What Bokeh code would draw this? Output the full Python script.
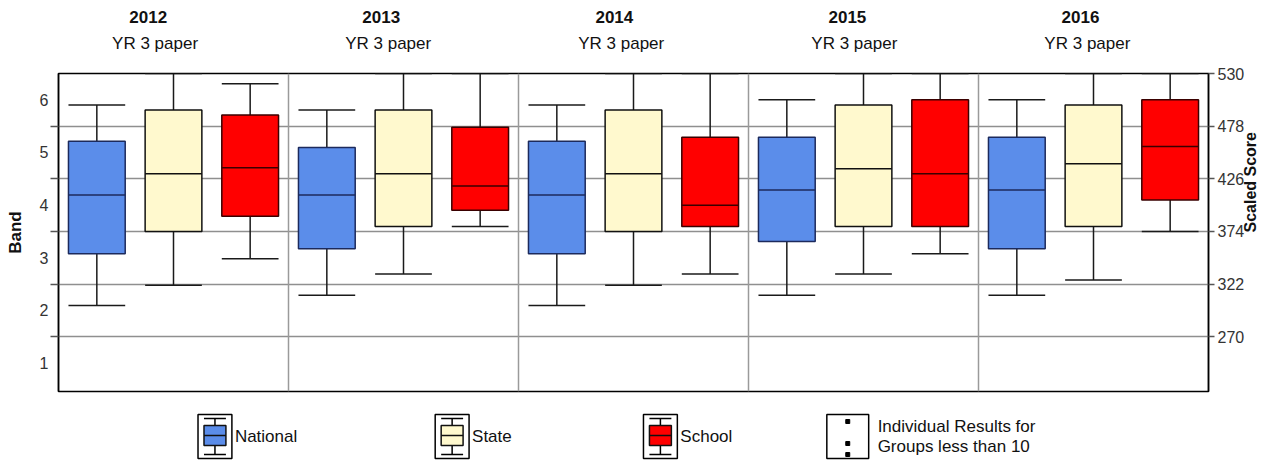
import math
from bokeh.plotting import figure
from bokeh.models import Range1d, LinearAxis, FixedTicker, Grid
from bokeh.layouts import column
from bokeh.embed import file_html
from bokeh.resources import INLINE
from bokeh.core.properties import value

# ---------------- data ----------------
years = ["2012", "2013", "2014", "2015", "2016"]
subtitle = "YR 3 paper"

national_min = [301, 311, 301, 311, 311]
national_q1 = [352, 357, 352, 364, 357]
national_med = [410, 410, 410, 415, 415]
national_q3 = [463, 457, 463, 467, 467]
national_max = [499, 494, 499, 504, 504]

state_min = [321, 332, 321, 332, 326]
state_q1 = [374, 379, 374, 379, 379]
state_med = [431, 431, 431, 436, 441]
state_q3 = [494, 494, 494, 499, 499]
state_max = [530, 530, 530, 530, 530]

school_min = [347, 379, 332, 352, 374]
school_q1 = [389, 395, 379, 379, 405]
school_med = [437, 419, 400, 431, 458]
school_q3 = [489, 477, 467, 504, 504]
school_max = [520, 530, 530, 530, 530]

band_labels = ["1", "2", "3", "4", "5", "6"]
band_centers = [244, 296, 348, 400, 452, 504]
band_bounds = [270, 322, 374, 426, 478]
score_ticks = [270, 322, 374, 426, 478, 530]

series_names = ["National", "State", "School"]
fills = ["#5B8DEA", "#FFF9CE", "#FF0000"]
outlines = ["#1C2A5C", "#111111", "#3A0000"]

FONT = "Liberation Sans"

# ---------------- main chart ----------------
p = figure(width=1270, height=400,
           x_range=Range1d(0, 15), y_range=Range1d(216, 530),
           x_axis_location=None, y_axis_location=None,
           output_backend="svg", toolbar_location=None,
           min_border_left=58, min_border_right=58,
           min_border_top=73, min_border_bottom=9,
           background_fill_color="white", border_fill_color="white")
p.grid.visible = False
p.outline_line_color = "black"
p.outline_line_width = 1.5

hgrid = Grid(dimension=1, ticker=FixedTicker(ticks=band_bounds),
             grid_line_color="#8f8f8f", grid_line_width=1.5)
vgrid = Grid(dimension=0, ticker=FixedTicker(ticks=[3, 6, 9, 12]),
             grid_line_color="#9a9a9a", grid_line_width=1.5)
p.add_layout(hgrid)
p.add_layout(vgrid)

data = [
    (national_min, national_q1, national_med, national_q3, national_max),
    (state_min, state_q1, state_med, state_q3, state_max),
    (school_min, school_q1, school_med, school_q3, school_max),
]
hw = 0.37
for k, (mn, q1, med, q3, mx) in enumerate(data):
    xs = [3 * i + k + 0.5 for i in range(len(years))]
    xl = [x - hw for x in xs]
    xr = [x + hw for x in xs]
    p.segment(x0=xs, y0=q3, x1=xs, y1=mx, line_color="#1a1a1a", line_width=1.5)
    p.segment(x0=xs, y0=q1, x1=xs, y1=mn, line_color="#1a1a1a", line_width=1.5)
    p.segment(x0=xl, y0=mx, x1=xr, y1=mx, line_color="#1a1a1a", line_width=1.5)
    p.segment(x0=xl, y0=mn, x1=xr, y1=mn, line_color="#1a1a1a", line_width=1.5)
    p.vbar(x=xs, width=2 * hw, bottom=q1, top=q3, fill_color=fills[k],
           line_color=outlines[k], line_width=1.5)
    p.segment(x0=xl, y0=med, x1=xr, y1=med, line_color=outlines[k], line_width=1.5)

# left axis: Band
left = LinearAxis(ticker=FixedTicker(ticks=band_centers, minor_ticks=band_bounds),
                  major_label_overrides={c: l for c, l in zip(band_centers, band_labels)})
left.major_tick_out = 0
left.major_tick_in = 0
left.minor_tick_out = 8
left.minor_tick_in = 0
left.minor_tick_line_color = "#555555"
left.minor_tick_line_width = 1.5
left.axis_line_color = "black"
left.axis_line_width = 1.5
left.major_label_standoff = 2
left.major_label_text_font = FONT
left.major_label_text_font_size = "16px"
left.major_label_text_color = "#333333"
left.axis_label = "Band"
left.axis_label_text_font = FONT
left.axis_label_text_font_size = "17px"
left.axis_label_text_font_style = "bold"
left.axis_label_text_color = "#111111"
left.axis_label_standoff = 12
p.add_layout(left, "left")

# right axis: Scaled Score
right = LinearAxis(ticker=FixedTicker(ticks=score_ticks))
right.major_tick_out = 6
right.major_tick_in = 0
right.major_tick_line_color = "#555555"
right.major_tick_line_width = 1.5
right.axis_line_color = "black"
right.axis_line_width = 1.5
right.major_label_standoff = 3
right.major_label_text_font = FONT
right.major_label_text_font_size = "16px"
right.major_label_text_color = "#333333"
right.axis_label = "Scaled Score"
right.axis_label_text_font = FONT
right.axis_label_text_font_size = "16px"
right.axis_label_text_font_style = "bold"
right.axis_label_text_color = "#111111"
right.axis_label_standoff = 3
try:
    right.axis_label_orientation = math.pi / 2
except Exception:
    pass
p.add_layout(right, "right")

# column titles (two stacked axes above)
sub_pos = [1.26 + 3.04 * i for i in range(len(years))]
year_pos = [1.17 + 3.04 * i for i in range(len(years))]
top_sub = LinearAxis(ticker=FixedTicker(ticks=sub_pos),
                     major_label_overrides={x: subtitle for x in sub_pos})
top_year = LinearAxis(ticker=FixedTicker(ticks=year_pos),
                      major_label_overrides={x: y for x, y in zip(year_pos, years)})
for ax in (top_sub, top_year):
    ax.axis_line_color = None
    ax.major_tick_line_color = None
    ax.minor_tick_line_color = None
    ax.major_tick_out = 0
    ax.major_tick_in = 0
    ax.major_label_text_font = FONT
    ax.major_label_text_font_size = "17px"
    ax.major_label_text_color = "#111111"
top_sub.major_label_standoff = 21
top_year.major_label_standoff = 8
top_year.major_label_text_font_style = "bold"
p.add_layout(top_sub, "above")
p.add_layout(top_year, "above")

# ---------------- legend strip (canvas-pixel coordinates) ----------------
leg = figure(width=1270, height=60, x_range=Range1d(58, 1212), y_range=Range1d(460, 400),
             x_axis_location=None, y_axis_location=None,
             min_border_left=58, min_border_right=58, min_border_top=0, min_border_bottom=0,
             output_backend="svg", toolbar_location=None,
             background_fill_color="white", border_fill_color="white")
leg.grid.visible = False
leg.outline_line_color = None

icon_cx = [215, 453, 662]
text_x = [235, 473, 682]
top_y, bot_y = 414, 458
leg.quad(left=[c - 17 for c in icon_cx], right=[c + 17 for c in icon_cx],
         top=top_y, bottom=bot_y, fill_color="white", line_color="black", line_width=1.5)
leg.segment(x0=icon_cx, y0=top_y + 4, x1=icon_cx, y1=bot_y - 4, line_color="black", line_width=1.5)
leg.segment(x0=[c - 11 for c in icon_cx], y0=top_y + 4, x1=[c + 11 for c in icon_cx], y1=top_y + 4,
            line_color="black", line_width=1.5)
leg.segment(x0=[c - 11 for c in icon_cx], y0=bot_y - 4, x1=[c + 11 for c in icon_cx], y1=bot_y - 4,
            line_color="black", line_width=1.5)
leg.quad(left=[c - 11 for c in icon_cx], right=[c + 11 for c in icon_cx],
         top=top_y + 11, bottom=top_y + 31, fill_color=fills, line_color="#111111", line_width=1.5)
leg.segment(x0=[c - 11 for c in icon_cx], y0=top_y + 21, x1=[c + 11 for c in icon_cx], y1=top_y + 21,
            line_color="#111111", line_width=1.5)
leg.text(x=text_x, y=top_y + 22, text=series_names, text_font=value(FONT),
         text_font_size="17px", text_baseline="middle", text_align="left",
         text_color="#111111")

# individual results icon
leg.quad(left=[829], right=[871], top=top_y, bottom=bot_y, fill_color="white",
         line_color="black", line_width=1.5)
leg.rect(x=[850, 850, 850], y=[top_y + 7, top_y + 29, top_y + 40], width=4, height=4,
         fill_color="black", line_color="black")
leg.text(x=[880, 880], y=[top_y + 12, top_y + 32],
         text=["Individual Results for", "Groups less than 10"],
         text_font=value(FONT), text_font_size="17px", text_baseline="middle",
         text_align="left", text_color="#111111")

layout = column(p, leg, spacing=0)
open("out.html", "w").write(file_html(layout, INLINE))
